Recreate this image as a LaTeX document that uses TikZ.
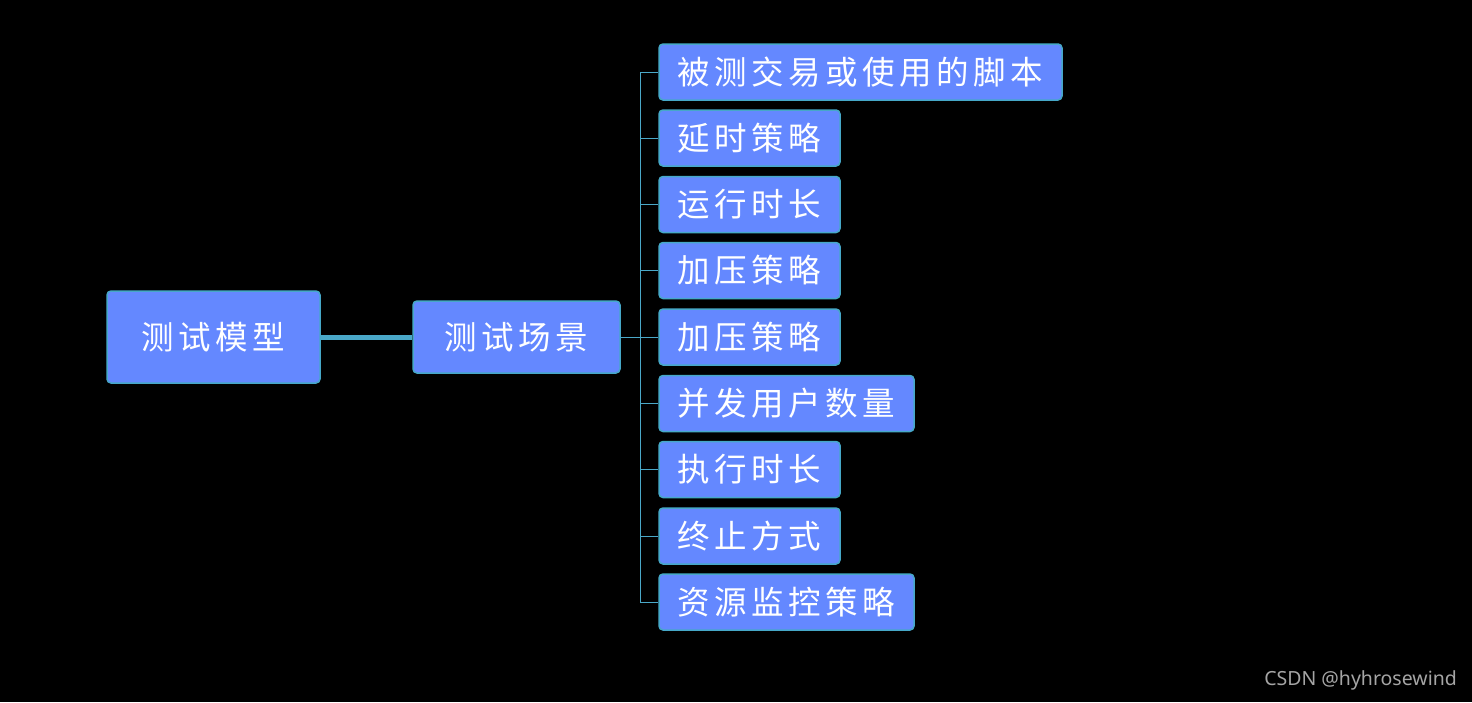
\documentclass[tikz,border=0pt]{standalone}
\usepackage{fontspec}
\newfontfamily\cjk[LetterSpace=14]{Noto Sans CJK SC}
\newfontfamily\wmfont{Noto Sans}
\definecolor{boxfill}{RGB}{100,136,255}
\definecolor{boxline}{RGB}{70,168,200}
\definecolor{linkc}{RGB}{74,168,200}
\definecolor{wmgray}{RGB}{165,165,165}
\tikzset{
  box/.style={draw=boxline, line width=1.5pt, fill=boxfill, rounded corners=4pt,
    text=white, font=\cjk\fontsize{32.5}{32.5}\selectfont, inner sep=0pt,
    minimum height=56pt, anchor=center},
  thicklink/.style={draw=linkc, line width=5pt},
  thinlink/.style={draw=linkc, line width=1pt},
}
\begin{document}
\begin{tikzpicture}[x=1pt,y=-1pt]
\fill[black] (0,0) rectangle (1472,702);
\useasboundingbox (0,0) rectangle (1472,702);
\node[box, minimum width=213pt, minimum height=92pt] (root) at (213.5,337) {测试模型};
\node[box, minimum width=207pt, minimum height=72pt] (scene) at (516.5,337) {测试场景};
\node[box, minimum width=403pt] (c1) at (860.5,72) {被测交易或使用的脚本};
\node[box, minimum width=181pt] (c2) at (749.5,138) {延时策略};
\node[box, minimum width=181pt] (c3) at (749.5,204.5) {运行时长};
\node[box, minimum width=181pt] (c4) at (749.5,270.5) {加压策略};
\node[box, minimum width=181pt] (c5) at (749.5,337) {加压策略};
\node[box, minimum width=255pt] (c6) at (786.5,403.5) {并发用户数量};
\node[box, minimum width=181pt] (c7) at (749.5,469.5) {执行时长};
\node[box, minimum width=181pt] (c8) at (749.5,536) {终止方式};
\node[box, minimum width=255pt] (c9) at (786.5,602) {资源监控策略};
\coordinate (bus) at (640,337);
\draw[thicklink] (root.east) -- (scene.west);
\draw[thinlink] (scene.east) -- (bus);
\foreach \c in {c1,c2,c3,c4,c5,c6,c7,c8,c9}{
  \draw[thinlink] (bus) |- (\c.west);
}
\node[anchor=east, text=wmgray, font=\wmfont\fontsize{19.5}{19.5}\selectfont, inner sep=0pt] (wm) at (1457,680) {CSDN @hyhrosewind};
\end{tikzpicture}
\end{document}
